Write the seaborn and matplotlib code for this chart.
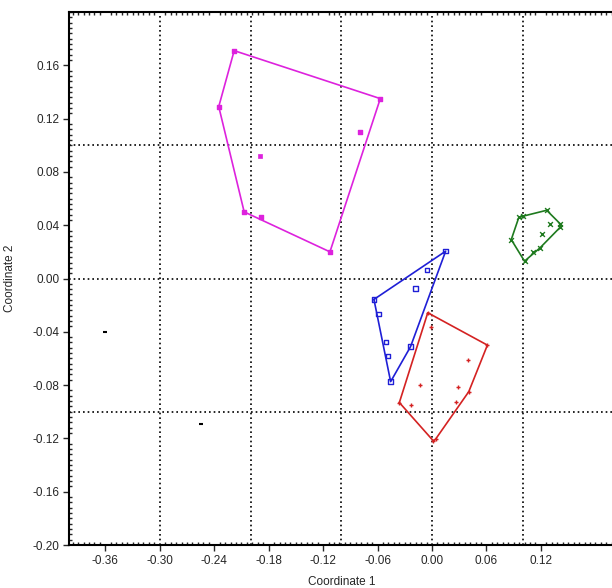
import numpy as np
import pandas as pd
import matplotlib
matplotlib.use("Agg")
import matplotlib.pyplot as plt
import seaborn as sns
from matplotlib.ticker import MultipleLocator

# point coordinates per group
magenta_x = [-0.218, -0.057, -0.235, -0.079, -0.207, -0.188, -0.1125]
magenta_y = [0.171, 0.135, 0.129, 0.110, 0.050, 0.046, 0.020]
magenta_small_x = [-0.189]
magenta_small_y = [0.092]

blue_x = [0.015, -0.0055, -0.018, -0.064, -0.059, -0.0508, -0.0486, -0.0237, -0.0456]
blue_y = [0.0205, 0.0065, -0.0077, -0.0157, -0.0267, -0.0477, -0.0582, -0.0512, -0.0774]

red_x = [-0.0047, -0.001, 0.061, 0.040, -0.0128, 0.0281, 0.0405, -0.036, -0.023, 0.0263, 0.0015, 0.004]
red_y = [-0.0257, -0.0365, -0.050, -0.0614, -0.080, -0.0814, -0.0849, -0.0931, -0.0951, -0.0924, -0.1219, -0.1205]

green_x = [0.0957, 0.100, 0.1263, 0.130, 0.1413, 0.1413, 0.1208, 0.0873, 0.111, 0.119, 0.1019]
green_y = [0.046, 0.0467, 0.0512, 0.0412, 0.041, 0.0385, 0.0337, 0.0292, 0.0202, 0.023, 0.013]

black_x = [-0.3607, -0.255]
black_y = [-0.040, -0.1094]

x_ticks = [-0.36, -0.30, -0.24, -0.18, -0.12, -0.06, 0.00, 0.06, 0.12]
y_ticks = [-0.20, -0.16, -0.12, -0.08, -0.04, 0.00, 0.04, 0.08, 0.12, 0.16]


def convex_hull(xs, ys):
    pts = sorted(set(zip(xs, ys)))
    if len(pts) < 3:
        return pts

    def cross(o, a, b):
        return (a[0] - o[0]) * (b[1] - o[1]) - (a[1] - o[1]) * (b[0] - o[0])

    lower, upper = [], []
    for p in pts:
        while len(lower) >= 2 and cross(lower[-2], lower[-1], p) <= 0:
            lower.pop()
        lower.append(p)
    for p in reversed(pts):
        while len(upper) >= 2 and cross(upper[-2], upper[-1], p) <= 0:
            upper.pop()
        upper.append(p)
    return lower[:-1] + upper[:-1]


sns.set_theme(style="white")
plt.rcParams["font.family"] = ["Liberation Sans", "DejaVu Sans"]

fig = plt.figure(figsize=(6.12, 5.88), dpi=100)
ax = fig.add_axes([69 / 612, 1 - 545 / 588, 545 / 612, 533 / 588])

groups = [
    (magenta_x, magenta_y, "#dd22dd", "s", True),
    (blue_x, blue_y, "#1f1fd6", "s", False),
    (red_x, red_y, "#d42222", "+", None),
    (green_x, green_y, "#1e7a1e", "x", None),
]

for xs, ys, col, mk, filled in groups:
    hull = convex_hull(xs, ys)
    hx = [p[0] for p in hull] + [hull[0][0]]
    hy = [p[1] for p in hull] + [hull[0][1]]
    ax.plot(hx, hy, color=col, lw=1.2, zorder=3)
    df = pd.DataFrame({"x": xs, "y": ys})
    if mk == "s":
        sns.scatterplot(data=df, x="x", y="y", ax=ax, marker="s", s=11,
                        color=col if filled else "none",
                        edgecolor=col, linewidth=1.0, zorder=4, legend=False)
    else:
        sns.scatterplot(data=df, x="x", y="y", ax=ax, marker=mk, s=12,
                        color=col, linewidth=1.0, zorder=4, legend=False)

sns.scatterplot(x=magenta_small_x, y=magenta_small_y, ax=ax, marker="s", s=5,
                color="#dd22dd", edgecolor="#dd22dd", linewidth=0.5, zorder=4, legend=False)
sns.scatterplot(x=black_x, y=black_y, ax=ax, marker="_", s=9, color="black",
                linewidth=1.5, zorder=4, legend=False)

ax.set_xlim(-0.40, 0.2005)
ax.set_ylim(-0.20, 0.20)

# dotted grid every 0.1
for g in [-0.3, -0.2, -0.1, 0.0, 0.1]:
    ax.axvline(g, color="black", lw=1.2, ls=(0, (1, 1.8)), zorder=1)
for g in [-0.1, 0.0, 0.1]:
    ax.axhline(g, color="black", lw=1.2, ls=(0, (1, 1.8)), zorder=1)

ax.set_xticks(x_ticks)
ax.set_yticks(y_ticks)
ax.set_xticklabels([f"{v:.2f}" for v in x_ticks])
ax.set_yticklabels([f"{v:.2f}" for v in y_ticks])
ax.xaxis.set_minor_locator(MultipleLocator(0.006))
ax.yaxis.set_minor_locator(MultipleLocator(0.004))
ax.tick_params(which="major", direction="out", length=4, width=1, labelsize=8.5,
               bottom=True, left=True, pad=3)
ax.tick_params(which="minor", direction="in", length=2.5, width=1,
               bottom=True, left=True, top=True)

for side in ["left", "bottom", "top"]:
    ax.spines[side].set_color("black")
    ax.spines[side].set_linewidth(1.5)
ax.spines["right"].set_visible(False)

ax.set_xlabel("Coordinate 1", fontsize=8.5, labelpad=7)
ax.set_ylabel("Coordinate 2", fontsize=8.5, labelpad=12)

fig.savefig("out.png", dpi=100)
